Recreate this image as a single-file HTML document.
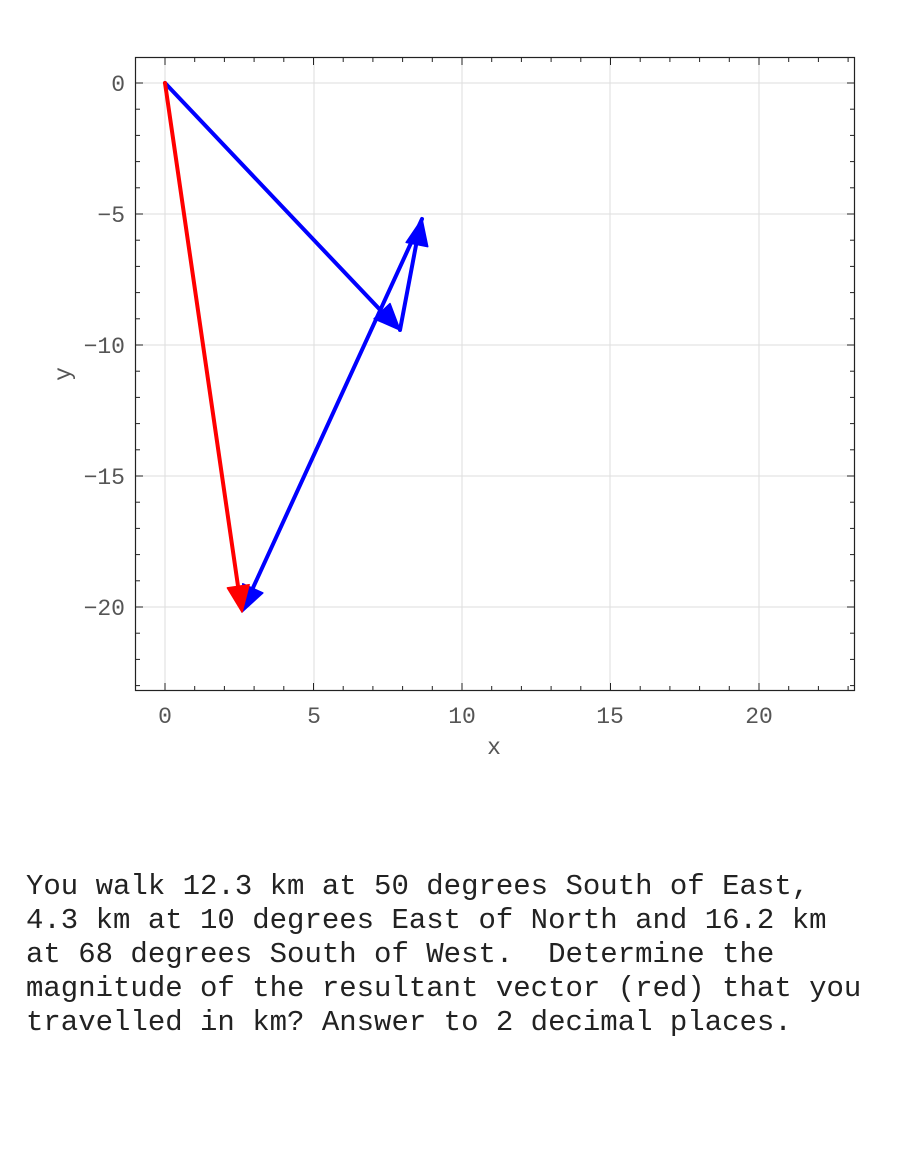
<!DOCTYPE html>
<html><head><style>
body{margin:0;background:#fff;width:900px;height:1149px;overflow:hidden;}
svg{position:absolute;left:0;top:0;}
.q{position:absolute;left:26px;top:870px;font-family:"Liberation Mono",monospace;font-size:29px;line-height:34px;color:#222;white-space:pre;}
</style></head><body>
<svg width="900" height="780" xmlns="http://www.w3.org/2000/svg" font-family="Liberation Mono, monospace" font-size="23" fill="#555">
<g stroke="#ddd" stroke-width="1">
<line x1="165" y1="57" x2="165" y2="691"/><line x1="314" y1="57" x2="314" y2="691"/><line x1="462" y1="57" x2="462" y2="691"/><line x1="610" y1="57" x2="610" y2="691"/><line x1="759" y1="57" x2="759" y2="691"/>
<line x1="135" y1="83" x2="855" y2="83"/><line x1="135" y1="214" x2="855" y2="214"/><line x1="135" y1="345" x2="855" y2="345"/><line x1="135" y1="476" x2="855" y2="476"/><line x1="135" y1="607" x2="855" y2="607"/>
</g>
<g id="ticks" stroke="#222" stroke-width="1"></g>
<rect x="135.5" y="57.5" width="719" height="633" fill="none" stroke="#222" stroke-width="1.2"/>
<g text-anchor="middle">
<text x="165" y="723">0</text><text x="314" y="723">5</text><text x="462" y="723">10</text><text x="610" y="723">15</text><text x="759" y="723">20</text>
<text x="494" y="754">x</text>
</g>
<g text-anchor="end">
<text x="125" y="91">0</text><text x="125" y="222">−5</text><text x="125" y="353">−10</text><text x="125" y="484">−15</text><text x="125" y="615">−20</text>
</g>
<text x="70" y="374" transform="rotate(-90 70 374)" text-anchor="middle">y</text>
<g stroke-width="4" stroke-linecap="round">
<line x1="165" y1="83" x2="385" y2="315" stroke="#00f"/>
<line x1="400" y1="330" x2="417" y2="240" stroke="#00f"/>
<line x1="422" y1="219" x2="252" y2="590" stroke="#00f"/>
<line x1="165" y1="83" x2="238" y2="586" stroke="#f00"/>
</g>
<g id="heads"></g>
</svg>
<div class="q">You walk 12.3 km at 50 degrees South of East,
4.3 km at 10 degrees East of North and 16.2 km
at 68 degrees South of West.  Determine the
magnitude of the resultant vector (red) that you
travelled in km? Answer to 2 decimal places.</div>
<script>
var t=document.getElementById('ticks'),s='';
for(var i=-1;i<=23;i++){var x=165+29.7*i;if(x<136||x>854)continue;var L=(i%5==0)?8:5;
s+='<line x1="'+x+'" y1="57" x2="'+x+'" y2="'+(57+L)+'"/><line x1="'+x+'" y1="691" x2="'+x+'" y2="'+(691-L)+'"/>';}
for(var j=0;j>=-23;j--){var y=83-26.2*j;if(y<58||y>690)continue;var L=(j%5==0)?8:5;
s+='<line x1="135" y1="'+y+'" x2="'+(135+L)+'" y2="'+y+'"/><line x1="855" y1="'+y+'" x2="'+(855-L)+'" y2="'+y+'"/>';}
t.innerHTML=s;
function head(x0,y0,x1,y1,c){var dx=x1-x0,dy=y1-y0,l=Math.hypot(dx,dy),ux=dx/l,uy=dy/l,H=26,W=11;
var bx=x1-ux*H,by=y1-uy*H;return '<polygon fill="'+c+'" stroke="'+c+'" stroke-width="1.5" stroke-linejoin="round" points="'+x1+','+y1+' '+(bx-uy*W)+','+(by+ux*W)+' '+(bx+uy*W)+','+(by-ux*W)+'"/>';}
document.getElementById('heads').innerHTML=head(165,83,400,330,'#00f')+head(400,330,422,219,'#00f')+head(422,219,242,612,'#00f')+head(165,83,242,612,'#f00');
</script>
</body></html>
